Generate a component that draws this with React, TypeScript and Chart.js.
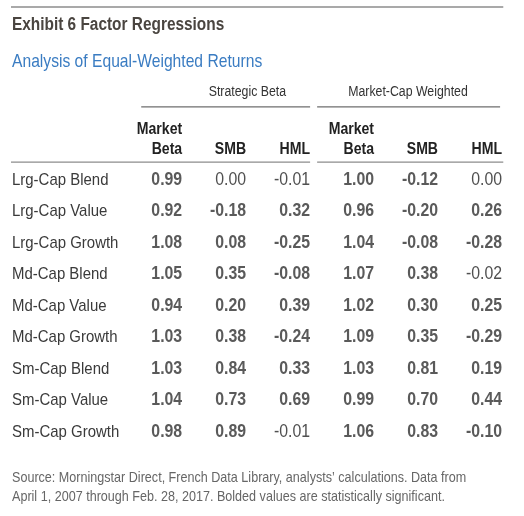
import { useEffect, useRef } from "react";
import { Chart, registerables } from "chart.js";

Chart.register(...registerables);

const titleText = "Exhibit 6 Factor Regressions";
const subtitleText = "Analysis of Equal-Weighted Returns";
const groupTitles = ["Strategic Beta", "Market-Cap Weighted"];
const columnHeaders = [["Market", "Beta"], ["SMB"], ["HML"], ["Market", "Beta"], ["SMB"], ["HML"]];
const rowLabels = [
  "Lrg-Cap Blend",
  "Lrg-Cap Value",
  "Lrg-Cap Growth",
  "Md-Cap Blend",
  "Md-Cap Value",
  "Md-Cap Growth",
  "Sm-Cap Blend",
  "Sm-Cap Value",
  "Sm-Cap Growth",
];
const sbMarketBeta = [0.99, 0.92, 1.08, 1.05, 0.94, 1.03, 1.03, 1.04, 0.98];
const sbSMB = [0.0, -0.18, 0.08, 0.35, 0.2, 0.38, 0.84, 0.73, 0.89];
const sbHML = [-0.01, 0.32, -0.25, -0.08, 0.39, -0.24, 0.33, 0.69, -0.01];
const mcMarketBeta = [1.0, 0.96, 1.04, 1.07, 1.02, 1.09, 1.03, 0.99, 1.06];
const mcSMB = [-0.12, -0.2, -0.08, 0.38, 0.3, 0.35, 0.81, 0.7, 0.83];
const mcHML = [0.0, 0.26, -0.28, -0.02, 0.25, -0.29, 0.19, 0.44, -0.1];
const sbMarketBetaSig = [true, true, true, true, true, true, true, true, true];
const sbSMBSig = [false, true, true, true, true, true, true, true, true];
const sbHMLSig = [false, true, true, true, true, true, true, true, false];
const mcMarketBetaSig = [true, true, true, true, true, true, true, true, true];
const mcSMBSig = [true, true, true, true, true, true, true, true, true];
const mcHMLSig = [false, true, true, false, true, true, true, true, true];
const footnoteLines = [
  "Source: Morningstar Direct, French Data Library, analysts\u2019 calculations. Data from",
  "April 1, 2007 through Feb. 28, 2017. Bolded values are statistically significant.",
];

const columns = [
  { values: sbMarketBeta, sig: sbMarketBetaSig },
  { values: sbSMB, sig: sbSMBSig },
  { values: sbHML, sig: sbHMLSig },
  { values: mcMarketBeta, sig: mcMarketBetaSig },
  { values: mcSMB, sig: mcSMBSig },
  { values: mcHML, sig: mcHMLSig },
];

const FAMILY = '"Liberation Sans", Arial, sans-serif';
const SX = 0.88;

function drawText(
  ctx: CanvasRenderingContext2D,
  text: string,
  x: number,
  y: number,
  font: string,
  color: string,
  align: CanvasTextAlign
) {
  ctx.save();
  ctx.translate(x, y);
  ctx.scale(SX, 1);
  ctx.font = font;
  ctx.fillStyle = color;
  ctx.textAlign = align;
  ctx.textBaseline = "middle";
  ctx.fillText(text, 0, 0);
  ctx.restore();
}

const tablePlugin = {
  id: "tablePlugin",
  afterDatasetsDraw(chart: any) {
    const ctx: CanvasRenderingContext2D = chart.ctx;
    const xs = chart.scales.x;
    const ys = chart.scales.y;
    const X = (v: number) => xs.getPixelForValue(v);
    const Y = (v: number) => ys.getPixelForValue(v);
    const left = chart.chartArea.left;

    const line = (x1: number, x2: number, yv: number, color: string, w: number) => {
      ctx.save();
      ctx.strokeStyle = color;
      ctx.lineWidth = w;
      ctx.beginPath();
      ctx.moveTo(x1, Y(yv));
      ctx.lineTo(x2, Y(yv));
      ctx.stroke();
      ctx.restore();
    };

    // rules
    line(left - 1, X(6.02), -5.49, "#8c8c8c", 1.5);
    line(X(0.36), X(3.0), -2.32, "#6e6e6e", 1.3);
    line(X(3.11), X(5.97), -2.32, "#6e6e6e", 1.3);
    line(left - 1, X(3.0), -0.57, "#8c8c8c", 1.3);
    line(X(3.11), X(6.02), -0.57, "#8c8c8c", 1.3);

    // title & subtitle
    drawText(ctx, titleText, left, Y(-4.92), `bold 17.5px ${FAMILY}`, "#4a4540", "left");
    drawText(ctx, subtitleText, left, Y(-3.75), `17.8px ${FAMILY}`, "#3a7cc2", "left");

    // group titles
    drawText(ctx, groupTitles[0], X(2.02), Y(-2.79), `14px ${FAMILY}`, "#333333", "center");
    drawText(ctx, groupTitles[1], X(4.53), Y(-2.79), `14px ${FAMILY}`, "#333333", "center");

    // column headers
    columnHeaders.forEach((lines, i) => {
      const c = i + 1;
      if (lines.length === 2) {
        drawText(ctx, lines[0], X(c), Y(-1.59), `bold 16px ${FAMILY}`, "#222222", "right");
        drawText(ctx, lines[1], X(c), Y(-0.98), `bold 16px ${FAMILY}`, "#222222", "right");
      } else {
        drawText(ctx, lines[0], X(c), Y(-0.98), `bold 16px ${FAMILY}`, "#222222", "right");
      }
    });

    // row labels (dataset 0) and values (datasets 1..6)
    chart.data.datasets.forEach((ds: any, di: number) => {
      const meta = chart.getDatasetMeta(di);
      meta.data.forEach((el: any, i: number) => {
        const p = ds.data[i];
        if (di === 0) {
          drawText(ctx, p.label, el.x, el.y, `17px ${FAMILY}`, "#3a3a3a", "left");
        } else {
          const font = p.sig ? `bold 18px ${FAMILY}` : `18px ${FAMILY}`;
          drawText(ctx, p.v.toFixed(2), el.x, el.y, font, p.sig ? "#5a5a5a" : "#505050", "right");
        }
      });
    });

    // footnote
    drawText(ctx, footnoteLines[0], left, Y(9.46), `14.3px ${FAMILY}`, "#666666", "left");
    drawText(ctx, footnoteLines[1], left, Y(10.06), `14.3px ${FAMILY}`, "#666666", "left");
  },
};

export default function App() {
  const ref = useRef<HTMLCanvasElement | null>(null);
  useEffect(() => {
    document.body.style.margin = "0";
    const canvas = ref.current;
    if (!canvas) return;
    const xMin = -1.66;
    const datasets: any[] = [
      {
        label: "rows",
        data: rowLabels.map((label, i) => ({ x: xMin, y: i, label })),
        pointRadius: 0,
      },
      ...columns.map((col, ci) => ({
        label: `col${ci + 1}`,
        data: col.values.map((v, i) => ({ x: ci + 1, y: i, v, sig: col.sig[i] })),
        pointRadius: 0,
      })),
    ];
    const chart = new Chart(canvas, {
      type: "scatter",
      data: { datasets },
      options: {
        animation: false,
        responsive: false,
        devicePixelRatio: 1,
        layout: { padding: { left: 12, right: 22, top: 3.6, bottom: 2.1 } },
        plugins: { legend: { display: false }, tooltip: { enabled: false }, title: { display: false } },
        scales: {
          x: { type: "linear", display: false, min: xMin, max: 6 },
          y: { type: "linear", display: false, reverse: true, min: -5.6, max: 10.6 },
        },
        events: [],
      },
      plugins: [tablePlugin],
    });
    return () => chart.destroy();
  }, []);
  return (
    <div style={{ width: 524, height: 516, background: "#ffffff" }}>
      <canvas ref={ref} width={524} height={516} style={{ display: "block" }} />
    </div>
  );
}
